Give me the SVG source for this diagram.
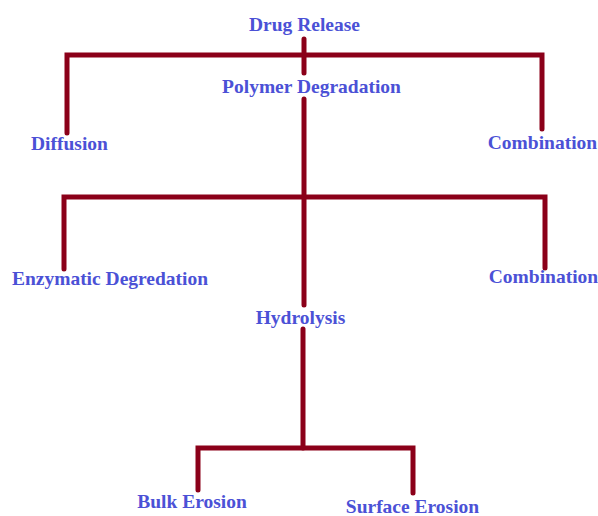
<svg xmlns="http://www.w3.org/2000/svg" width="598" height="516" viewBox="0 0 598 516">
<style>
.t{font-family:"Liberation Serif","Times New Roman",serif;font-weight:bold;font-size:19.5px;fill:#4b51d6;text-anchor:middle}
.c{fill:none;stroke:#8b0019;stroke-width:5;stroke-linecap:round;stroke-linejoin:miter}
</style>
<rect width="598" height="516" fill="#ffffff"/>
<g id="connectors">
<line class="c" x1="304" y1="39" x2="304" y2="73"/>
<polyline class="c" points="67,133 67,55 542,55 542,129"/>
<line class="c" x1="304" y1="99" x2="304" y2="305"/>
<polyline class="c" points="64,269 64,197 545,197 545,268"/>
<line class="c" x1="303" y1="329" x2="303" y2="448"/>
<polyline class="c" points="198,490 198,448 413,448 413,493"/>
</g>
<g id="drug-release"><text class="t" x="304.5" y="31">Drug Release</text></g>
<g id="polymer-degradation"><text class="t" x="311.5" y="93">Polymer Degradation</text></g>
<g id="diffusion"><text class="t" x="69.5" y="150">Diffusion</text></g>
<g id="combination-1"><text class="t" x="542.5" y="149">Combination</text></g>
<g id="enzymatic-degredation"><text class="t" x="110" y="285">Enzymatic Degredation</text></g>
<g id="combination-2"><text class="t" x="543.5" y="283">Combination</text></g>
<g id="hydrolysis"><text class="t" x="300.5" y="324">Hydrolysis</text></g>
<g id="bulk-erosion"><text class="t" x="192" y="508">Bulk Erosion</text></g>
<g id="surface-erosion"><text class="t" x="412.5" y="513">Surface Erosion</text></g>
</svg>
